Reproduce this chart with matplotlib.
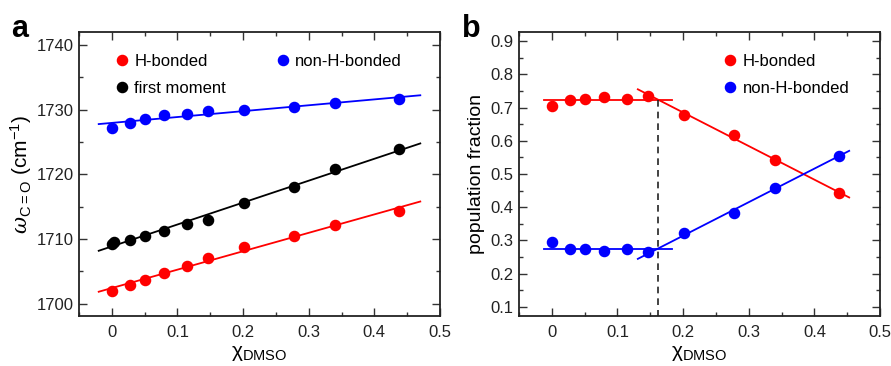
import numpy as np
import matplotlib.pyplot as plt
from matplotlib.ticker import MultipleLocator, FuncFormatter

plt.rcParams['font.family'] = ['Liberation Sans', 'DejaVu Sans']
plt.rcParams['font.size'] = 12
plt.rcParams['mathtext.fontset'] = 'custom'
plt.rcParams['mathtext.rm'] = 'Liberation Sans'
plt.rcParams['mathtext.it'] = 'DejaVu Serif:italic'
plt.rcParams['mathtext.sf'] = 'Liberation Sans'

# mole fraction of DMSO
x_dmso = [0.0, 0.028, 0.05, 0.08, 0.115, 0.147, 0.202, 0.277, 0.34, 0.437]

# panel a: C=O frequencies (cm-1)
w_hb = [1702.0, 1702.9, 1703.7, 1704.8, 1705.9, 1707.0, 1708.7, 1710.4, 1712.2, 1714.3]
w_nhb = [1727.1, 1728.0, 1728.5, 1729.1, 1729.3, 1729.8, 1729.9, 1730.4, 1731.0, 1731.6]
x_fm = [0.0, 0.003, 0.028, 0.05, 0.08, 0.115, 0.147, 0.202, 0.277, 0.34, 0.437]
w_fm = [1709.3, 1709.6, 1709.9, 1710.5, 1711.3, 1712.3, 1713.0, 1715.6, 1718.1, 1720.8, 1723.9]

# panel b: population fractions
p_hb = [0.704, 0.724, 0.726, 0.732, 0.726, 0.734, 0.678, 0.617, 0.541, 0.444]
p_nhb = [0.294, 0.275, 0.274, 0.268, 0.275, 0.265, 0.321, 0.383, 0.458, 0.555]

RED, BLUE, BLACK = '#ff0000', '#0000ff', '#000000'
MS = 7.3


def style_axes(ax):
    ax.tick_params(which='both', direction='in', top=True, right=True,
                   colors='#333333', labelcolor='#222222')
    ax.tick_params(which='major', length=6, width=1.0)
    ax.tick_params(which='minor', length=3, width=1.0)
    ax.tick_params(axis='x', which='major', pad=6.5)
    ax.tick_params(axis='y', which='major', pad=4)
    for sp in ax.spines.values():
        sp.set_linewidth(1.3)
        sp.set_color('#222222')
    ax.set_xlim(-0.05, 0.5)
    ax.xaxis.set_major_locator(MultipleLocator(0.1))
    ax.xaxis.set_minor_locator(MultipleLocator(0.05))
    ax.xaxis.set_major_formatter(FuncFormatter(lambda v, p: '%g' % round(v, 3)))
    ax.set_xlabel('χ$_{\\mathrm{DMSO}}$', fontsize=15, labelpad=3)


fig = plt.figure(figsize=(8.91, 3.66), dpi=100)
axa = fig.add_axes([0.0887, 0.1366, 0.4051, 0.776])
axb = fig.add_axes([0.5825, 0.1366, 0.4052, 0.776])

# ---- panel a
xl = np.array([-0.02, 0.47])
for xs, ys, c in [(x_dmso, w_hb, RED), (x_dmso, w_nhb, BLUE), (x_fm, w_fm, BLACK)]:
    k, b = np.polyfit(xs, ys, 1)
    axa.plot(xl, k * xl + b, color=c, lw=1.3)
ha, = axa.plot(x_dmso, w_hb, 'o', color=RED, ms=MS, label='H-bonded')
hn, = axa.plot(x_dmso, w_nhb, 'o', color=BLUE, ms=MS, label='non-H-bonded')
hf, = axa.plot(x_fm, w_fm, 'o', color=BLACK, ms=MS, label='first moment')
style_axes(axa)
axa.set_ylim(1698.1, 1742)
axa.yaxis.set_major_locator(MultipleLocator(10))
axa.yaxis.set_minor_locator(MultipleLocator(5))
axa.set_ylabel(r'$\omega_{\mathrm{C=O}}$ (cm$^{\mathrm{-1}}$)', fontsize=15, labelpad=2)
axa.legend(handles=[ha, hf, hn], ncol=2, loc='upper left', frameon=False,
           handlelength=0.6, handletextpad=0.45, columnspacing=3.1,
           labelspacing=0.75, borderaxespad=0.9, fontsize=12,
           bbox_to_anchor=(0.045, 1.0))

# ---- panel b
n_flat = 6
flat_hb = np.mean(p_hb[:n_flat])
flat_nhb = np.mean(p_nhb[:n_flat])
k_hb, b_hb = np.polyfit(x_dmso[n_flat:], p_hb[n_flat:], 1)
k_nhb, b_nhb = np.polyfit(x_dmso[n_flat:], p_nhb[n_flat:], 1)
xf = np.array([-0.012, 0.183])
xs = np.array([0.131, 0.453])
axb.plot(xf, [flat_hb] * 2, color=RED, lw=1.3)
axb.plot(xf, [flat_nhb] * 2, color=BLUE, lw=1.3)
axb.plot(xs, k_hb * xs + b_hb, color=RED, lw=1.3)
axb.plot(xs, k_nhb * xs + b_nhb, color=BLUE, lw=1.3)
x_cross = (flat_hb - b_hb) / k_hb
axb.plot([x_cross, x_cross], [0.0, flat_hb], '--', color='#222222', lw=1.2,
         dashes=(4, 3))
axb.plot(x_dmso, p_hb, 'o', color=RED, ms=MS, label='H-bonded')
axb.plot(x_dmso, p_nhb, 'o', color=BLUE, ms=MS, label='non-H-bonded')
style_axes(axb)
axb.set_ylim(0.072, 0.928)
axb.yaxis.set_major_locator(MultipleLocator(0.1))
axb.yaxis.set_minor_locator(MultipleLocator(0.05))
axb.set_ylabel('population fraction', fontsize=14, labelpad=4)
axb.legend(loc='upper right', frameon=False, handlelength=0.6,
           handletextpad=0.45, labelspacing=0.75, borderaxespad=0.9,
           fontsize=12, bbox_to_anchor=(0.975, 1.0))

fig.text(0.012, 0.9, 'a', fontsize=22, fontweight='bold')
fig.text(0.518, 0.9, 'b', fontsize=22, fontweight='bold')

fig.savefig('out.png', dpi=100)
